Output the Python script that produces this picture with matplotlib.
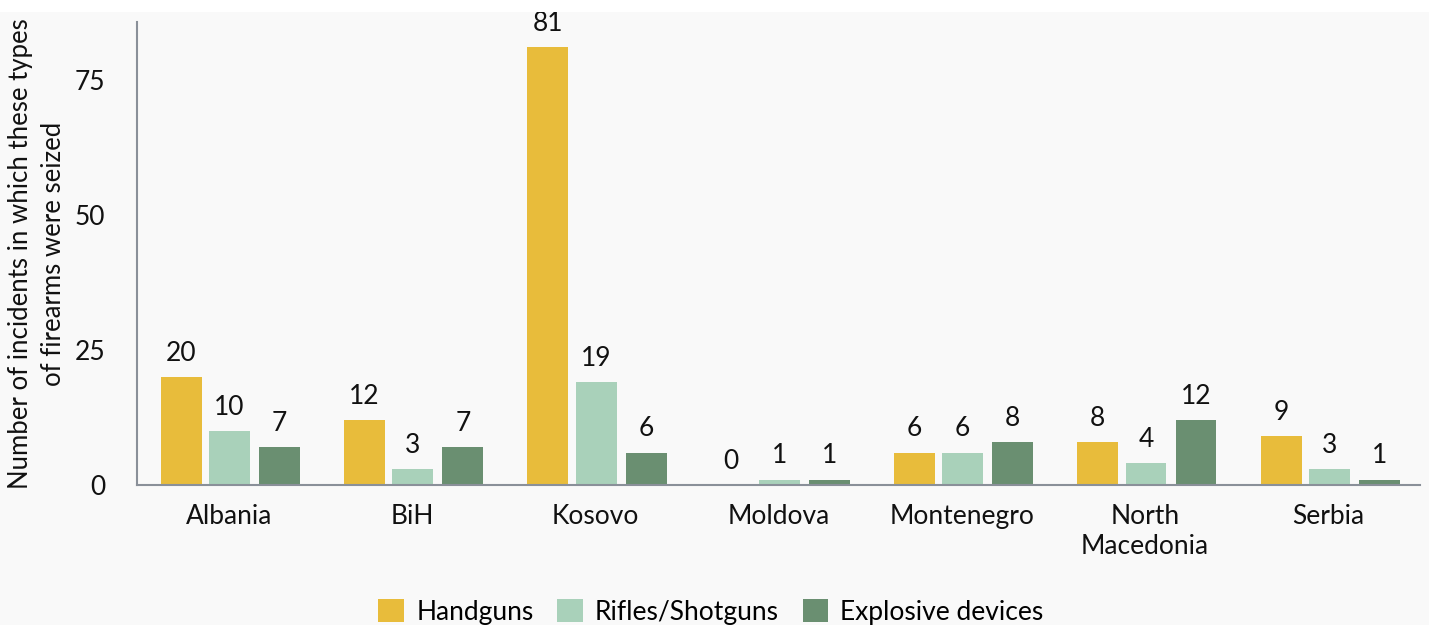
import matplotlib
matplotlib.use("Agg")
import matplotlib.pyplot as plt
import numpy as np

categories = ["Albania", "BiH", "Kosovo", "Moldova", "Montenegro", "North\nMacedonia", "Serbia"]
series_names = ["Handguns", "Rifles/Shotguns", "Explosive devices"]
handguns = [20, 12, 81, 0, 6, 8, 9]
rifles = [10, 3, 19, 1, 6, 4, 3]
explosives = [7, 7, 6, 1, 8, 12, 1]
yticks = [0, 25, 50, 75]

colors = ["#E8BC3B", "#A9D1BA", "#6A8F71"]
bg = "#F9F9F9"

plt.rcParams['font.family'] = ['Lato', 'DejaVu Sans']
FS = 19

fig = plt.figure(figsize=(14.29, 6.25), dpi=100, facecolor=bg)
fig.patches.append(plt.Rectangle((0, 1 - 12 / 625), 1, 12 / 625, transform=fig.transFigure,
                                 facecolor="white", edgecolor="none", zorder=0))
ax = fig.add_axes([137 / 1429, 1 - 485 / 625, (1420 - 137) / 1429, (485 - 22) / 625])
ax.set_facecolor(bg)

x = np.arange(len(categories))
width = 0.223
offsets = [-0.258, 0.005, 0.278]
data = [handguns, rifles, explosives]
for vals, off, col, name in zip(data, offsets, colors, series_names):
    bars = ax.bar(x + off, vals, width, color=col, label=name, zorder=2)
    for b, v in zip(bars, vals):
        ax.annotate(str(v), (b.get_x() + b.get_width() / 2, v), xytext=(0, 8),
                    textcoords="offset points", ha="center", va="bottom", fontsize=FS, color="#111111")

ax.set_xlim(-0.5, 6.5)
ax.set_ylim(0, 85.7)
ax.set_xticks(x)
ax.set_xticklabels(categories, fontsize=FS, color="#111111", linespacing=1.25)
ax.set_yticks(yticks)
ax.set_yticklabels([str(t) for t in yticks], fontsize=FS, color="#111111")
ax.tick_params(axis="both", length=0)
ax.tick_params(axis="y", pad=23)
ax.tick_params(axis="x", pad=14)
for s in ["top", "right"]:
    ax.spines[s].set_visible(False)
for s in ["left", "bottom"]:
    ax.spines[s].set_color("#8A9099")
    ax.spines[s].set_linewidth(1.5)

fig.text(37 / 1429, 1 - 254 / 625, "Number of incidents in which these types\nof firearms were seized",
         rotation=90, ha="center", va="center", fontsize=18.5, color="#111111", linespacing=1.4)

leg = fig.legend(loc="center", bbox_to_anchor=(711 / 1429, 1 - 612 / 625), ncol=3, frameon=False,
                 fontsize=FS, handlelength=0.98, handleheight=0.98, handletextpad=0.45, columnspacing=0.9)

fig.savefig("out.png", dpi=100, facecolor=bg)
